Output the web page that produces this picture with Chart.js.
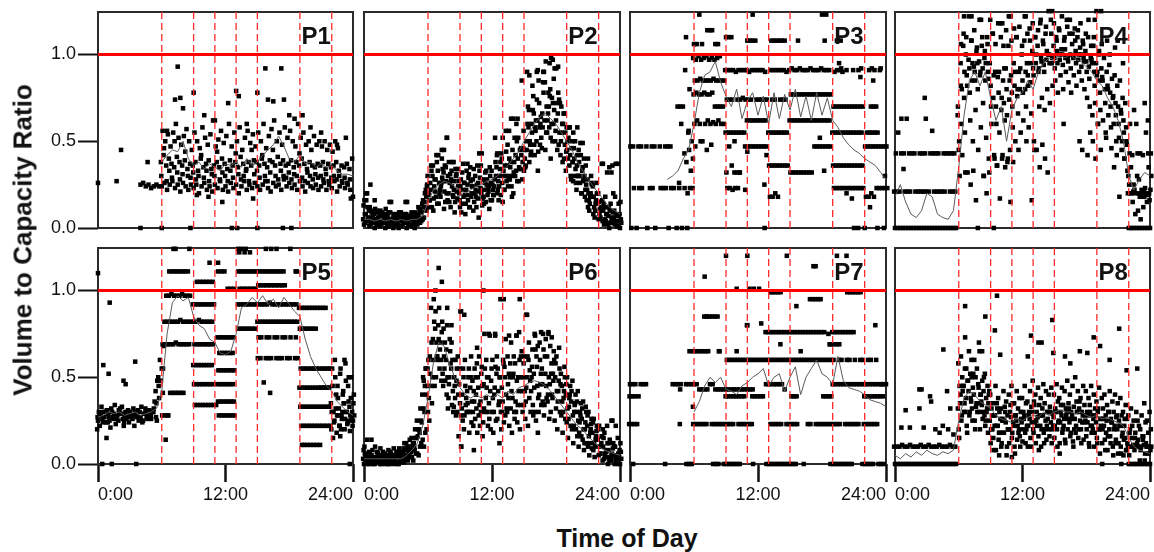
<!DOCTYPE html>
<html><head><meta charset="utf-8">
<script src="https://cdn.jsdelivr.net/npm/chart.js@4.4.1/dist/chart.umd.min.js"></script>
<style>
html,body{margin:0;padding:0;background:#fff;}
#wrap{position:relative;width:1154px;height:552px;overflow:hidden;font-family:'Liberation Sans',Arial,sans-serif;}
#wrap canvas{position:absolute;}
.ytitle{position:absolute;left:23px;top:240px;transform:translate(-50%,-50%) rotate(-90deg);font-weight:bold;font-size:26px;white-space:nowrap;color:#111;}
.xtitle{position:absolute;left:627px;top:538px;transform:translate(-50%,-50%);font-weight:bold;font-size:25px;white-space:nowrap;color:#111;}
</style></head><body><div id="wrap"></div>
<script>
const _ = null;
// ---- axes / labels ----
const Y_TICKS = [0, 0.5, 1.0];
const X_TICKS = [0, 12, 24];
const X_TICK_LABELS = ['0:00', '12:00', '24:00'];
const Y_MAX = 1.245;
const CAPACITY_LEVEL = 1.0;
const PERIOD_BOUNDS = [6, 9, 11, 13, 15, 19, 22];
const PANEL_NAMES = ['P1','P2','P3','P4','P5','P6','P7','P8'];
const LABEL_POS = [22, 1.10];
const STEP = 0.25;       // hours between samples of a day series
const MEAN_STEP = 0.5;   // hours between samples of the mean line
const DAY_SHIFT = [0, -0.08, 0.08, -0.04, 0.04, 0.12, -0.12];

// ================= P1 =================
const P1_A = [.26,_,_,_,_,_,_,.27,_,_,_,_,
_,_,_,_,.25,.26,.24,.25,.23,.24,.25,.24,
.24,.26,.22,.25,.27,.23,.25,.21,.26,.24,.22,.25,
.23,.25,.2,.24,.26,.22,.24,.21,.25,.23,.27,.22,
.24,.21,.26,.23,.25,.2,.24,.27,.22,.25,.23,.26,
.24,.22,.25,.27,.23,.21,.26,.24,.25,.22,.28,.24,
.26,.23,.25,.22,.27,.24,.21,.26,.24,.23,.25,.22,
.24,.26,.22,.25,.23,.27,.21,.24,.26,.23,.25,.22,
.18];
const P1_B = [_,_,_,_,_,_,_,_,_,.45,_,_,
_,_,_,_,_,_,_,.38,_,_,_,_,
.38,.42,.36,.4,.37,.35,.41,.38,.36,.39,.34,.37,
.36,.38,.33,.4,.35,.37,.39,.34,.36,.38,.35,.4,
.37,.34,.39,.36,.38,.35,.41,.37,.33,.38,.36,.39,
.38,.36,.4,.37,.35,.39,.38,.36,.41,.37,.39,.36,
.37,.39,.35,.38,.36,.4,.37,.34,.38,.36,.35,.37,
.36,.38,.34,.37,.35,.36,.38,.33,.36,.35,.37,.34,
.4];
const P1_C = [_,_,_,_,_,_,_,_,_,_,_,_,
_,_,_,_,_,_,_,_,_,_,_,_,
.56,.5,.54,.47,.55,.6,.52,.48,.53,.57,.5,.45,
.55,.5,.46,.58,.52,.48,.54,.62,.47,.51,.56,.49,
.53,.6,.47,.55,.5,.58,.45,.52,.56,.49,.54,.47,
.55,.5,.6,.46,.53,.57,.62,.5,.55,.48,.58,.52,
.56,.5,.47,.6,.52,.55,.48,.5,.45,.53,.48,.5,
.47,.5,.45,.48,.44,.5,.46,_,_,.52,_,_,
_];
const P1_D = [_,_,_,_,_,_,_,_,_,_,_,_,
_,_,_,_,_,_,_,_,_,_,_,_,
.3,.46,.27,.33,.29,.5,.32,.28,.31,.44,.3,.29,
.32,.28,.3,.42,.29,.33,.27,.31,.3,.44,.28,.32,
.3,.27,.33,.29,.43,.31,.28,.3,.34,.27,.45,.31,
.33,.29,.42,.3,.27,.32,.45,.3,.28,.33,.3,.29,
.32,.28,.31,.3,.43,.29,.27,.32,.3,.28,.31,.29,
.3,.28,.31,.27,.29,.3,.28,.3,.27,.29,.26,.28,
_];
const P1_EXTRA = [[7.5,.93],[7.75,.75],[7.25,.74],[8,.69],[6.5,.56],[9,.78],[10,.65],[11,.62],[12.25,.72],[13,.79],[13.25,.76],[14,.6],[15,.78],[15.75,.92],[16,.74],[16.5,.73],[17.25,.92],[17.5,.74],[18,.65],[18.5,.63],[19.25,.65],[20,.58],[21,.55],[22.5,.48],[10.4,.18],[11.7,.15],[9.3,.19],[14.6,.17],[23.8,.17],[4,0],[6,0],[8.7,0],[12.6,0],[13.1,0],[15,0],[17.4,0],[18.2,0]];
const P1_MEAN = [_,_,_,_,_,_,_,_,_,_,_,_,
.38,.42,.45,.44,.5,.4,.36,.38,.34,.37,.35,.33,
.37,.36,.38,.35,.4,.36,.38,.42,.45,.48,.53,.47,
.4,.38,.42,.37,.38,.35,.37,.35,.36,.33,.31,.31,.3];

// ================= P2 =================
const P2_A = [.02,.04,.01,.03,0,.02,.01,.03,0,.02,.01,0,
.02,0,.01,.03,0,.02,.01,0,.02,.03,.05,.12,
.12,.22,.1,.18,.14,.26,.11,.2,.15,.24,.09,.17,
.12,.22,.08,.16,.27,.1,.18,.06,.2,.14,.25,.11,
.16,.28,.2,.34,.15,.3,.24,.38,.2,.33,.27,.42,
.33,.45,.38,.55,.42,.62,.48,.58,.45,.66,.52,.6,
.62,.48,.7,.4,.58,.36,.5,.3,.42,.26,.35,.22,
.12,.2,.08,.16,.05,.12,.02,.08,0,.05,.02,.01,
0];
const P2_B = [.05,.08,.04,.03,.05,.02,.04,.03,.05,.02,.04,.03,
.04,.02,.05,.03,.04,.02,.05,.03,.04,.06,.09,.15,
.25,.16,.3,.21,.33,.18,.27,.35,.2,.28,.22,.31,
.2,.14,.26,.19,.12,.24,.3,.17,.23,.28,.15,.21,
.26,.19,.35,.24,.4,.22,.36,.28,.45,.3,.4,.34,
.46,.36,.58,.44,.66,.5,.72,.46,.62,.55,.76,.5,
.5,.66,.42,.6,.33,.52,.28,.46,.22,.38,.2,.3,
.22,.14,.18,.1,.15,.06,.1,.04,.07,.03,.06,.02,
.04];
const P2_C = [.08,.12,.06,.07,.05,.06,.04,.07,.06,.05,.04,.06,
.05,.07,.04,.06,.05,.07,.06,.04,.08,.05,.12,.18,
.19,.33,.24,.38,.2,.29,.36,.16,.31,.19,.34,.24,
.28,.18,.22,.31,.2,.15,.25,.33,.13,.26,.19,.3,
.22,.38,.27,.19,.33,.44,.3,.24,.38,.5,.34,.28,
.4,.6,.48,.68,.56,.44,.64,.78,.55,.7,.6,.68,
.72,.55,.6,.48,.5,.42,.38,.34,.3,.42,.28,.25,
.16,.26,.12,.2,.08,.16,.05,.12,.03,.09,.04,.07,
.05];
const P2_D = [.13,.16,.1,.09,.08,.1,.07,.09,.08,.07,.09,.06,
.08,.06,.09,.07,.08,.06,.09,.07,.06,.1,.14,.2,
.3,.26,.36,.28,.42,.24,.32,.27,.38,.33,.27,.21,
.16,.32,.19,.25,.35,.28,.22,.26,.36,.18,.33,.24,
.33,.24,.42,.3,.26,.36,.48,.35,.3,.42,.52,.46,
.56,.5,.68,.6,.48,.74,.58,.66,.84,.62,.8,.72,
.56,.78,.5,.66,.44,.58,.46,.4,.36,.3,.33,.18,
.28,.18,.24,.14,.2,.1,.14,.08,.12,.06,.1,.04,
.08];
const P2_E = [.16,.2,.12,.1,.11,.09,.1,.08,.11,.09,.15,.08,
.07,.09,.06,.08,.15,.07,.08,.09,.07,.11,.16,.22,
.2,.36,.17,.42,.26,.45,.21,.52,.26,.38,.15,.34,
.24,.37,.14,.29,.18,.34,.12,.21,.43,.22,.28,.35,
.25,.52,.22,.38,.3,.56,.28,.63,.32,.6,.35,.85,
.45,.9,.5,.82,.58,.91,.6,.84,.96,.78,.98,.86,
.92,.74,.55,.66,.45,.58,.38,.5,.3,.49,.27,.36,
.2,.3,.18,.26,.15,.37,.12,.32,.1,.36,.18,.37,
.15];
const P2_F = [.03,.06,.02,.05,.03,.04,.02,.05,.03,.01,.04,.02,
.03,.05,.02,.04,.03,.05,.02,.04,.03,.04,.06,.1,
.16,.12,.28,.14,.22,.34,.15,.3,.12,.18,.3,.27,
.09,.26,.33,.12,.24,.2,.36,.29,.17,.32,.23,.16,
.19,.3,.16,.43,.22,.27,.4,.18,.52,.27,.45,.38,
.35,.7,.42,.76,.62,.85,.52,.9,.7,.58,.75,.92,
.45,.72,.38,.55,.4,.3,.55,.26,.45,.2,.4,.16,
.1,.25,.06,.2,.11,.04,.18,.02,.14,.2,.08,.14,
.03];
const P2_EXTRA = [[0.2,.2],[0.6,.25],[1,.16],[2.4,.15],[3.9,.15],[5.1,.12],[5.9,.24],[7.3,.4],[7.75,.52],[7.5,.45],[8.4,.38],[9.7,.37],[10.8,.43],[12.5,.43],[13,.52],[13.6,.56],[14,.63],[14.4,.63],[15.5,.88],[16.2,.9],[16.8,.9],[17.4,.95],[17.7,.97],[18.2,.93],[19.6,.27],[20,.58],[20.5,.49],[21,.4],[22.4,.37],[23,.35],[23.6,.37],[23.2,.32],[16.3,.33],[17.5,.4]];
const P2_MEAN = [.05,.05,.04,.05,.04,.05,.04,.05,.04,.05,.05,.07,
.15,.22,.25,.27,.26,.24,.22,.2,.22,.24,.25,.27,
.28,.3,.33,.36,.4,.44,.5,.55,.6,.64,.66,.63,
.6,.55,.5,.45,.38,.33,.28,.24,.2,.16,.12,.1,.08];

// ================= P3 =================
const P3_A = [_,_,_,_,_,_,_,_,_,_,_,_,
_,_,_,_,_,_,_,_,_,1.1,_,_,
1.06,1.06,_,1.06,_,1.14,1.14,_,1.06,1.06,_,_,
1.1,1.1,1.1,_,_,_,_,_,1.08,1.08,1.08,1.08,
_,_,_,_,_,1.08,1.08,1.08,1.08,1.08,1.08,_,
_,_,_,1.08,_,_,_,_,_,_,_,_,
_,1.08,_,_,_,_,1.08,1.08,_,_,_,_,
_,_,_,_,_,_,_,_,_,_,_,_,
_];
const P3_B = [_,_,_,_,_,_,_,_,_,_,_,_,
_,_,_,_,_,_,_,_,_,.91,_,_,
.98,.97,.99,.97,.98,.99,.97,.98,.97,.98,.99,_,
.91,.91,.91,.91,.9,.91,.91,.91,.91,.9,.91,.91,
.91,.91,.91,.9,_,.91,.91,.91,.91,.91,.91,.9,
.91,.92,.91,.91,.92,.91,.91,.91,.92,.91,.91,.91,
.92,.91,.91,.91,_,.9,.91,.91,.9,_,_,_,
.91,_,.91,.92,_,_,.91,.92,.91,_,.91,_,
_];
const P3_C = [_,_,_,_,_,_,_,_,_,_,_,_,
_,_,_,_,_,_,_,_,_,_,.8,_,
.85,.85,.86,.85,.85,.85,.85,.86,.85,.85,.85,.85,
.74,.74,.74,_,.74,.74,.75,.74,.74,.74,_,.74,
.74,.74,.74,.74,_,.74,.74,_,.74,.74,.74,_,
.77,.77,.77,.77,.77,.77,.77,.77,.77,.77,.77,.77,
.77,.77,.77,.77,.7,.7,.7,.7,.7,.7,.7,.7,
.7,.7,.7,.7,_,_,.7,.7,.7,_,_,_,
_];
const P3_D = [_,_,_,_,_,_,_,_,_,_,_,_,
_,_,_,_,_,_,.7,.7,.7,_,.55,_,
.77,.78,.77,.77,.78,.77,.77,.78,.7,.7,.7,.7,
.55,.55,.55,.55,.55,.55,.55,.55,.62,.62,.62,.62,
.62,.62,.62,.62,.55,.55,.55,.55,.55,.55,.55,.55,
.62,.62,.62,.62,.62,.62,.62,.62,.62,.62,.62,.62,
.62,.62,.62,.62,.55,.55,.55,.55,.55,.55,.55,.55,
.55,.55,.55,.55,_,.55,.55,.55,.55,.55,_,_,
_];
const P3_E = [.47,.47,_,.47,.47,_,.47,_,.47,.47,_,.47,
_,.47,.47,.47,_,_,_,_,_,.38,.45,.5,
.6,.62,.6,.5,.6,.62,.6,.61,.6,.62,.6,.6,
.32,_,.36,.32,.32,.32,_,.47,.47,.47,.47,.47,
.47,.47,.47,.47,.36,.36,.36,.36,.36,.36,.36,.36,
.32,.32,.32,.32,.32,.32,.32,.32,.32,.47,.47,.47,
.47,.47,.47,.47,.36,.36,.36,.36,.36,.36,.36,.36,
.36,.36,.36,.36,.47,.47,.47,.47,.47,.47,.47,.47,
.47];
const P3_F = [0,.23,0,.23,.23,_,0,.23,.23,0,_,.23,
.23,.23,0,.23,.23,0,.23,0,.23,0,.23,.23,
.47,_,.5,_,_,_,.48,_,_,_,_,_,
.23,.23,.22,.23,.23,_,_,_,_,_,_,_,
_,_,0,_,.18,.18,.2,.18,_,_,_,_,
_,_,_,_,_,_,_,_,_,_,_,_,
_,_,_,_,.23,.23,.23,.23,.23,.23,.23,.23,
.23,.23,.23,.23,.18,.18,.2,.18,.23,.23,.23,.23,
.23];
const P3_EXTRA = [[6.5,1.23],[11.5,1.23],[18,1.23],[18.4,1.23],[7.7,1.14],[19.4,1.08],[5.5,.56],[4.8,.6],[5.9,.4],[5.7,.33],[10.3,.32],[11,.44],[12.6,.25],[12.8,.42],[10.8,.22],[17.8,.52],[18.2,.33],[21,0],[21.4,0],[22,0],[23.2,0],[23.8,0],[20.3,.2],[20.8,.17],[22.5,.12],[23.9,.3],[22.8,.85],[23.5,.92],[7.2,.45],[5.1,.43],[9.8,.5],[19.6,.95],[19.8,.92],[20.3,.91],[21.6,.87],[5.4,.2],[4.6,.26],[9.3,.47]];
const P3_MEAN = [_,_,_,_,_,_,_,.28,.3,.33,.4,.45,
.6,.78,.88,.9,.96,.84,.76,.7,.8,.63,.73,.78,
.65,.76,.6,.78,.63,.77,.68,.8,.64,.76,.62,.78,
.65,.75,.62,.58,.52,.48,.45,.43,.4,.38,.36,.32,.28];

// ================= P4 =================
const P4_A = [0,0,0,0,0,0,0,0,0,0,0,0,
0,0,0,0,0,0,0,0,0,0,0,0,
.45,.6,.75,.88,.92,.85,.9,.95,.88,.92,.85,.9,
.82,.75,.7,.78,.68,.72,.8,.74,.78,.82,.76,.8,
.85,.8,.88,.84,.92,.95,.9,.98,.94,.97,1,.95,
.98,1.02,.97,1,1.03,.98,1,.99,1.02,.97,1,.98,
.96,.93,.97,.9,.88,.85,.87,.8,.82,.78,.75,.72,
.7,.68,.62,.58,0,0,0,0,0,0,0,0,
0];
const P4_B = [.21,.21,.21,_,.21,.21,.21,_,.21,.21,.21,.21,
.21,.21,_,.21,.21,.21,.21,.21,_,.21,.21,.21,
.7,.95,1.05,1,.97,1.08,.93,1.02,.96,1.05,.98,1.1,
.95,1.12,.9,.87,1.18,.85,.92,1.05,.88,.95,1.1,.9,
1,1.08,.95,1.15,1.02,1.1,1.05,1.18,1.08,1.12,1,1.2,
1.05,1.1,1.15,1.03,1.08,1.2,1.12,1.06,1.15,1.1,1.04,1.08,
1.02,1.1,.98,1.05,.95,1,.92,.98,.9,.94,.86,.88,
.82,.85,.75,.72,.2,.2,.21,.2,.2,.2,.21,.2,
.2];
const P4_C = [.43,_,.43,.43,_,.43,.43,.43,_,.43,.43,.43,
_,.43,.43,.43,.43,_,.43,.43,.43,.43,.43,_,
.3,.42,.55,.32,.62,.5,.68,.45,.58,.3,.52,.4,
.6,.42,.36,.55,.4,.62,.38,.45,.58,.5,.66,.55,
.62,.7,.58,.66,.5,.45,.7,.75,.68,.8,.72,.82,
.85,.78,.88,.8,.9,.84,.78,.88,.82,.9,.85,.8,
.75,.7,.65,.72,.6,.68,.62,.55,.65,.58,.6,.5,
.52,.45,.4,.48,.43,.42,_,.43,.43,.42,_,.43,
.43];
const P4_D = [_,_,_,_,_,_,_,_,_,_,_,_,
_,_,_,_,_,_,_,_,_,_,_,_,
_,1.06,1.12,1.1,1.22,1.08,1.14,1.04,1.2,1.1,1.02,1.06,
1.2,1.12,1.06,1.18,1.1,1.05,1.14,1.22,1.08,1.15,1.1,1.16,
1.05,1.22,1.12,1.08,1.18,1.1,1.14,1.2,1.06,1.16,1.25,1.12,
1.18,1.08,1.14,1.22,1.1,1.16,1.2,1.12,1.08,1.14,1.18,1.06,
1.12,1.2,1.05,1.1,1.25,1.02,1.06,_,1.08,1,_,1.04,
1.08,_,.95,_,.3,.35,.25,.6,.28,.22,.18,.15,
.16];
const P4_E = [_,_,_,_,_,_,_,_,_,_,_,_,
_,_,_,_,_,_,_,_,_,_,_,_,
.5,.8,.9,.82,.78,.95,.85,.8,.9,.72,.95,.86,
.7,.88,.6,.9,.75,.92,.65,.85,.7,.9,.8,.92,
.78,.9,.82,.95,.88,1,.92,.96,.9,1.02,.95,.98,
.92,.95,1,.94,.98,.96,.92,.98,.95,1,.93,.96,
.9,.86,.95,.82,.9,.78,.85,.72,.8,.7,.76,.65,
.6,.66,.55,.5,.25,.2,.22,.3,.18,.2,.23,.19,
.22];
const P4_F = [_,_,_,_,_,_,_,_,_,_,_,_,
_,_,_,_,_,_,_,_,_,_,_,_,
_,_,.32,_,.25,.33,.16,_,_,.3,.2,.32,
_,.4,.36,.17,.42,.35,.4,.15,.38,_,.45,_,
_,.5,_,.16,.45,_,.35,.48,.4,.32,_,_,
_,_,_,.6,_,_,_,_,_,.5,.45,_,
.42,.55,.5,.4,.6,.45,_,.52,_,.46,.35,.42,
.18,.5,.4,.33,.6,.15,.08,.1,.05,.12,.55,.35,
.3];
const P4_EXTRA = [[0.3,.55],[0.6,.63],[1.1,.63],[2.8,.75],[2.9,.63],[3.5,.56],[0.8,.34],[7.8,0],[9.3,0],[22.5,.68],[23.5,.72],[23.8,.62],[6.5,1.22],[7.2,1.22],[8.1,1.2],[10.1,1.18],[10.9,1.22],[12.3,1.22],[14.8,1.25],[19.4,1.25],[18.8,1.2],[6.2,.82],[5.9,.65]];
const P4_MEAN = [.18,.25,.15,.08,.06,.1,.2,.18,.08,.06,.05,.1,
.35,.65,.85,.9,.82,.9,.75,.62,.7,.5,.68,.75,
.78,.85,.8,.9,.95,.98,.97,1,.98,1,.97,.96,
.93,.9,.85,.82,.75,.7,.62,.5,.3,.22,.28,.32,.3];

// ================= P5 =================
const P5_A = [.25,.28,.3,.24,.27,.32,.29,.26,.3,.33,.28,.27,
.3,.26,.29,.31,.27,.25,.3,.28,.26,.32,.35,.38,
.55,.82,.82,.82,.82,.82,.82,.83,.82,.82,.82,.82,
.82,.82,.83,.82,.82,.82,.82,.82,_,.73,.73,.73,
.73,.73,.73,.73,_,.78,.78,.78,.78,.78,.78,.78,
.82,.82,.82,.82,.82,.82,.82,.82,.82,.82,.82,.82,
.82,.82,.82,.82,.78,.78,.78,.78,.78,.78,.78,_,
.44,.44,.44,.44,.3,.25,.28,.22,.3,.26,.24,.28,
.25];
const P5_B = [.2,.22,.26,.3,.24,.21,.27,.23,.25,.29,.22,.26,
.24,.28,.22,.27,.3,.24,.29,.26,.28,.3,.42,.5,
.48,.68,.97,.97,.98,.97,.97,.97,.98,.97,.97,.97,
.92,.92,.92,.92,.92,.92,.92,.92,.92,_,.64,.64,
.64,.64,.64,.64,_,.92,.92,.92,.92,.92,.92,.92,
.92,.92,.92,.92,.92,.93,.92,.92,.92,.92,.92,.92,
.92,.92,.92,.92,.9,.9,.9,.9,.9,.9,.9,.9,
.9,.9,.9,_,.35,.3,.4,.32,.28,.35,.3,.33,
.3];
const P5_C = [.3,.33,.27,.31,.25,.3,.34,.28,.32,.26,.3,.31,
.27,.32,.28,.25,.33,.29,.27,.31,.3,.36,.48,.6,
.69,.69,.69,.69,.69,.7,.69,.69,.69,.69,.69,_,
.69,.69,.69,.69,.69,.69,.69,.69,_,.54,.54,.54,
.54,.54,.54,.54,_,1.01,1.01,1.01,1.01,1.01,1.01,1.01,
1.03,1.03,1.03,1.03,1.03,1.03,1.03,1.03,1.03,1.03,1.03,_,
_,_,_,_,.55,.55,.55,.55,.55,.55,.55,.55,
.55,.55,.55,.55,.45,.5,.38,.55,.42,.48,.36,.5,
.4];
const P5_D = [.27,_,.24,_,.29,_,.26,_,.31,_,.24,_,
.28,_,.3,_,.26,_,.32,_,.28,.3,.27,.45,
_,_,_,1.11,1.11,1.11,1.11,1.11,1.11,1.11,1.11,_,
.57,.57,.57,.57,.57,.57,.57,.57,_,.46,.46,.46,
.46,.46,.46,.46,_,1.11,1.11,1.11,1.11,1.11,1.11,1.11,
1.11,1.11,1.11,1.11,1.11,1.11,1.11,1.11,1.11,1.11,1.11,_,
_,_,_,1.11,.44,.44,.44,.44,.44,.44,.44,.44,
.44,.44,.44,.44,.2,.24,.18,.22,.26,.2,.23,.19,
.22];
const P5_E = [_,_,_,_,_,_,_,_,_,_,_,_,
_,_,_,_,_,_,_,_,_,_,.25,_,
.28,.28,.28,.41,.41,.41,.41,.41,.41,_,_,_,
.46,.46,.46,.46,.46,.46,.46,.46,_,.36,.36,.36,
.36,.36,.36,.36,_,_,_,_,_,_,_,_,
.61,.61,_,.61,.61,.61,_,.61,.61,.61,_,.61,
.61,_,.61,.61,.33,.33,.33,.33,.33,.33,.33,.33,
.33,.33,.33,.33,.55,.6,.45,.52,.4,.58,.45,.38,
.35];
const P5_F = [_,_,_,_,_,_,_,_,_,_,_,_,
_,_,_,_,_,_,_,_,_,_,_,_,
.55,.14,.28,_,_,_,_,_,_,_,_,_,
.34,.34,.34,.34,.34,.34,.34,.34,.34,.28,.28,.28,
.28,.28,.28,.28,_,_,_,_,_,_,_,_,
.73,.73,_,.73,.73,_,.73,.73,_,.73,.73,_,
.73,_,.73,_,.22,.22,.22,.22,.22,.22,.22,.22,
.22,.22,.22,.22,.15,.32,.28,.2,.35,.3,.25,.27,
.28];
const P5_EXTRA = [[7.1,1.24],[7.3,1.24],[8.6,1.24],[13.2,1.24],[13.5,1.24],[13.9,1.24],[15.8,1.24],[16.3,1.24],[16.8,1.24],[18.1,1.24],[13.3,1.22],[13.8,1.22],[14.3,1.22],[10.5,1.16],[11.3,1.16],[9.3,1.05],[9.6,1.05],[9.9,1.05],[10.2,1.05],[10.5,1.05],[10.8,1.05],[11.3,1.11],[11.6,1.11],[11.9,1.11],[12.2,1.01],[12.5,1.01],[12.8,1.01],[19.2,.11],[19.4,.11],[19.7,.11],[20,.11],[20.3,.11],[20.6,.11],[20.9,.11],[15.6,.47],[16.2,.41],[0,1.1],[1.1,.93],[0.5,.57],[1,.52],[2.4,.48],[2.6,.46],[3.5,.59],[0.8,.15],[0.4,0],[1.3,0],[3.6,0],[23.7,0],[18.6,1.11],[6.1,.41],[23.2,.6],[23.6,.5],[22.8,.16],[6.3,.69]];
const P5_MEAN = [.27,.28,.3,.29,.3,.28,.29,.3,.28,.29,.3,.32,
.42,.75,.93,.97,.94,.96,.85,.8,.78,.72,.7,.64,
.63,.65,.75,.9,.92,.96,.93,.97,.92,.95,.9,.96,
.92,.88,.85,.72,.62,.55,.5,.45,.42,.36,.33,.3,.28];

// ================= P6 =================
const P6_A = [0,.02,0,.01,0,.02,0,.01,0,0,.02,0,
.01,0,.02,.01,.03,.05,.04,.08,.06,.1,.14,.18,
.3,.45,.6,.5,.72,.48,.62,.4,.5,.34,.45,.3,
.35,.25,.45,.3,.5,.22,.4,.28,.52,.32,.44,.26,
.3,.44,.26,.5,.36,.28,.46,.32,.52,.3,.42,.34,
.34,.5,.38,.56,.3,.45,.6,.36,.52,.4,.3,.48,
.32,.48,.28,.42,.24,.38,.2,.34,.16,.3,.14,.24,
.1,.2,.08,.16,.05,.12,.03,.08,.02,.06,0,.03,
0];
const P6_B = [.03,.05,.02,.04,.03,.02,.04,.03,.02,.05,.03,.04,
.03,.05,.04,.06,.08,.1,.07,.12,.15,.2,.24,.3,
.45,.62,.5,.78,.6,.7,.45,.6,.38,.55,.33,.48,
.46,.32,.28,.42,.3,.48,.26,.5,.36,.24,.38,.5,
.48,.3,.52,.36,.44,.56,.3,.5,.38,.58,.34,.5,
.5,.36,.6,.42,.52,.62,.4,.55,.34,.62,.46,.38,
.5,.36,.46,.3,.4,.26,.36,.22,.3,.18,.26,.12,
.22,.12,.18,.1,.14,.06,.1,.04,.08,.02,.05,.01,
.04];
const P6_C = [.06,.03,.05,.02,.04,.06,.03,.05,.04,.02,.05,.03,
.05,.04,.07,.05,.1,.08,.12,.15,.2,.25,.32,.4,
.38,.7,.82,.62,.55,.82,.7,.5,.65,.42,.6,.4,
.28,.5,.38,.55,.24,.36,.58,.34,.45,.55,.3,.42,
.38,.56,.42,.3,.58,.4,.52,.42,.3,.48,.6,.42,
.42,.62,.48,.34,.66,.38,.52,.66,.45,.5,.58,.6,
.42,.55,.36,.5,.32,.45,.28,.4,.25,.35,.2,.3,
.16,.26,.12,.22,.1,.16,.06,.12,.04,.09,.03,.06,
.07];
const P6_D = [.08,.04,.07,.05,.03,.07,.05,.04,.06,.03,.07,.05,
.04,.07,.05,.09,.12,.06,.15,.1,.25,.18,.4,.45,
.55,.52,.72,.88,.8,.6,.78,.66,.46,.7,.5,.55,
.55,.4,.6,.35,.44,.3,.5,.44,.3,.46,.6,.35,
.55,.4,.62,.5,.3,.5,.62,.58,.5,.36,.5,.62,
.58,.44,.7,.5,.44,.56,.7,.46,.62,.36,.68,.52,
.58,.42,.52,.38,.46,.33,.42,.3,.36,.24,.32,.2,
.28,.18,.24,.14,.2,.1,.15,.07,.12,.05,.1,.04,
.08];
const P6_E = [.1,.14,.06,.08,.1,.06,.09,.07,.05,.08,.06,.09,
.07,.09,.06,.12,.08,.14,.1,.2,.16,.32,.5,.55,
.6,.9,.95,.7,.9,.76,.55,.8,.72,.6,.38,.62,
.88,.55,.34,.5,.62,.42,.32,.62,.56,.75,.5,.74,
.6,.75,.55,.95,.6,.72,.38,.7,.62,.74,.76,.65,
.62,.86,.54,.66,.74,.68,.46,.75,.72,.76,.52,.65,
.62,.67,.45,.56,.5,.4,.48,.35,.42,.28,.36,.33,
.3,.23,.26,.19,.22,.16,.18,.22,.14,.25,.1,.15,
.12];
const P6_F = [.01,0,.03,0,.02,.01,0,.03,.01,0,.01,.02,
0,.02,.01,.03,.02,.04,.02,.06,.05,.12,.1,.2,
.25,.35,.45,.62,.66,.52,.48,.32,.58,.3,.28,.16,
.1,.2,.3,.18,.36,.55,.18,.22,.16,.3,.22,.2,
.18,.25,.34,.2,.24,.32,.22,.18,.26,.24,.2,.3,
.26,.22,.3,.28,.25,.3,.34,.28,.38,.26,.4,.25,
.2,.3,.18,.26,.15,.22,.12,.2,.1,.16,.08,.12,
.05,.09,.04,.14,.06,.02,.04,0,.03,.12,.02,0,
.03];
const P6_EXTRA = [[7,1.13],[7.3,1.05],[6.7,1],[13.1,.95],[14.6,.95],[11.2,1],[0.7,.14],[9.1,.88],[9.4,.86],[11.7,.75],[12.3,.74],[10.6,.67],[15.2,.86],[13.6,.74],[14.3,.74],[16,.75],[16.6,.76],[17.3,.75],[17.6,.73],[23.2,.25],[23.6,.22],[22.4,.2],[9.1,.1],[12.7,.12],[16.3,.18],[10.3,.08],[5.8,.55],[5.6,.48],[7.8,.9],[8.2,.8]];
const P6_MEAN = [.03,.03,.03,.03,.03,.03,.03,.03,.05,.08,.12,.22,
.38,.58,.7,.68,.58,.5,.44,.4,.38,.4,.38,.4,
.38,.4,.38,.42,.4,.44,.45,.47,.48,.47,.45,.42,
.38,.34,.3,.26,.22,.2,.16,.13,.1,.08,.07,.06,.05];

// ================= P7 =================
const P7_A = [.46,.46,.46,_,.46,.46,.46,_,_,_,_,_,
_,_,_,_,.46,.46,.46,.46,_,.46,.46,.46,
.46,.46,.43,.43,.43,.43,.46,.46,.43,.43,.43,.43,
.43,.43,.43,.43,.43,.43,.43,.43,.43,.43,.43,_,
_,_,_,.46,.46,.46,.46,.46,.46,.46,.43,_,
_,_,_,_,_,_,_,_,_,_,_,_,
_,_,_,_,.46,.46,.46,.46,.46,.46,.46,.46,
.46,.46,.46,.46,.46,.46,.46,.46,.46,.46,.46,.46,
.46];
const P7_B = [.23,.23,.23,.23,_,_,_,_,_,_,_,_,
_,_,_,_,_,_,_,.23,_,_,_,_,
.23,.23,.23,.23,.23,.23,_,.23,.23,.23,.23,.23,
.23,.23,.23,.23,_,.23,.23,.23,.23,.23,.23,_,
_,_,_,_,_,.23,.23,.23,.23,.23,_,.23,
.23,.23,.23,.23,_,_,_,.23,.23,_,.23,.23,
.23,.23,.23,.23,.23,.23,.23,.23,_,.23,.23,.23,
.23,.23,.23,_,.23,.23,.23,.23,.23,.23,_,_,
_];
const P7_C = [_,_,_,_,_,_,_,_,_,_,_,_,
_,_,_,_,_,_,_,_,_,_,.65,.65,
.65,.65,.65,.65,.65,.65,_,_,_,.65,_,_,
.6,.6,.6,.6,.6,.6,.6,.6,.6,.6,.6,.6,
.6,.6,.6,.6,.6,.6,.6,.6,.6,.6,.6,.6,
.6,.6,.6,.6,.6,.6,.6,.6,.6,.6,.6,.6,
.6,.6,.6,.6,.6,_,.6,.6,_,.6,.6,_,
.6,_,.6,.6,_,.6,.6,_,.6,_,_,_,
_];
const P7_D = [.39,.39,.39,_,_,_,_,_,_,_,_,_,
_,_,_,_,_,_,_,_,_,_,_,_,
_,_,_,_,.85,.85,.85,.85,.85,.85,_,_,
.39,.39,.39,.39,.39,.39,.39,.39,.8,_,.39,.39,
.39,.39,.39,.76,.76,.76,.76,.76,.76,.76,.76,.76,
.76,.76,.76,.76,.76,.76,.76,.76,.76,.76,.76,.76,
.76,.76,_,.69,.76,.76,.76,.76,.76,.76,.76,.76,
.76,_,_,_,.39,.39,.39,.39,.39,.39,.39,.39,
_];
const P7_E = [_,0,_,_,_,_,_,_,_,_,_,_,
_,0,_,_,_,_,_,_,_,0,0,0,
_,_,_,_,_,_,_,0,0,0,_,0,
0,0,0,0,0,0,_,_,_,_,0,_,
_,_,_,0,0,0,0,0,0,0,0,0,
0,0,0,_,_,0,_,_,_,_,_,_,
_,_,_,0,0,0,0,0,0,0,0,0,
_,_,_,0,0,0,0,0,_,0,0,0,
_];
const P7_F = [_,_,_,_,_,_,_,_,_,_,_,_,
_,_,_,_,_,_,_,_,_,_,_,_,
_,_,_,_,_,_,_,_,_,_,_,_,
_,_,_,_,_,_,_,_,_,_,_,_,
_,_,_,_,_,.99,.99,.99,.99,_,_,_,
.39,.39,.39,_,_,_,_,.95,.95,.95,.95,.95,
.39,.39,.39,.39,.69,.69,.69,_,_,.99,.99,.99,
.99,.99,.99,_,_,_,_,_,_,_,_,_,
_];
const P7_EXTRA = [[7,1.08],[9,1.2],[11,1.2],[14.7,1.2],[19.4,1.2],[20.3,1.2],[17.2,1.14],[17.4,1.14],[15.6,.91],[10,1.01],[11.2,1.01],[11.6,1.01],[12.1,1.01],[13.2,.99],[14.1,.69],[16,.65],[8.4,.65],[10,.65],[11,.8],[23,.8],[18.8,.69],[7.2,.85],[4.7,.43],[5.9,.33],[23.6,.46],[0.8,.39],[12.3,.81],[18.6,.75]];
const P7_MEAN = [_,_,_,_,_,_,_,_,_,_,_,_,
.3,.36,.45,.5,.47,.5,.43,.42,.4,.45,.47,.5,
.52,.55,.45,.5,.52,.42,.5,.56,.4,.5,.55,.6,
.52,.5,.46,.62,.48,.44,.43,.42,.4,.37,.36,.35,.33];

// ================= P8 =================
const P8_A = [0,0,0,0,0,0,0,0,0,0,0,0,
0,0,0,0,0,0,0,0,0,0,0,0,
.2,.25,.3,.22,.28,.32,.25,.3,.2,.26,.22,.18,
.12,.15,.08,.14,.1,.18,.05,.12,.15,.1,.14,.16,
.13,.18,.1,.15,.2,.12,.16,.1,.18,.14,.2,.12,
.15,.2,.12,.18,.14,.2,.16,.13,.18,.15,.2,.14,
.16,.12,.18,.1,.15,.2,.12,.14,.08,.16,.1,.12,
.06,.1,.05,.08,0,0,0,0,0,0,0,0,
0];
const P8_B = [.1,.1,.1,.11,.1,.1,.11,.1,.1,.1,.11,.1,
.1,.11,.1,.1,.1,.11,.1,.1,.1,.11,.1,.1,
.32,.4,.45,.38,.42,.36,.4,.35,.3,.34,.28,.32,
.25,.2,.28,.22,.26,.18,.24,.2,.27,.22,.25,.2,
.24,.28,.22,.26,.3,.24,.27,.22,.28,.25,.3,.24,
.27,.3,.25,.28,.26,.3,.24,.28,.26,.3,.25,.28,
.25,.28,.22,.26,.24,.2,.26,.22,.25,.2,.24,.22,
.2,.22,.18,.15,.1,.1,.11,.1,.1,.1,.11,.1,
.1];
const P8_C = [_,_,_,_,_,_,_,_,_,_,_,_,
_,_,_,_,_,_,_,_,_,_,_,_,
.45,.5,.55,.48,.52,.44,.5,.46,.4,.42,.38,.4,
.32,.28,.35,.3,.25,.33,.28,.3,.35,.28,.32,.3,
.3,.35,.28,.33,.36,.3,.34,.28,.35,.3,.33,.29,
.32,.36,.3,.34,.32,.35,.3,.33,.36,.32,.3,.34,
.3,.34,.28,.32,.3,.26,.32,.28,.3,.26,.3,.27,
.25,.28,.22,.26,.18,.22,.15,.25,.2,.14,.24,.18,
.2];
const P8_D = [_,_,_,_,_,_,_,_,_,_,_,_,
_,_,_,_,_,_,_,_,_,_,_,_,
.58,.62,.45,.55,.65,.5,.6,.55,.65,.48,.52,.45,
.4,.35,.45,.38,.32,.42,.36,.4,.45,.35,.42,.38,
.38,.45,.36,.42,.48,.4,.44,.38,.46,.42,.4,.44,
.4,.46,.38,.44,.42,.48,.4,.45,.5,.42,.38,.45,
.42,.38,.45,.4,.36,.44,.38,.4,.34,.42,.36,.4,
.35,.38,.3,.34,.28,.32,.25,.3,.22,.28,.35,.25,
.3];
const P8_E = [_,_,_,_,_,_,_,_,_,_,_,_,
_,_,_,_,_,_,_,_,_,_,_,_,
.15,.28,.35,.18,.3,.25,.2,.35,.4,.3,.25,.35,
.2,.08,.22,.18,.12,.25,.1,.2,.18,.06,.22,.1,
.2,.12,.22,.1,.18,.25,.08,.2,.12,.22,.16,.2,
.22,.1,.24,.2,.12,.26,.18,.1,.22,.2,.12,.24,
.2,.1,.22,.18,.12,.06,.2,.08,.16,.12,.05,.14,
.12,.06,.14,.08,.05,.15,.08,.12,.02,.16,.06,.1,
.08];
const P8_F = [_,_,_,_,_,_,_,_,_,_,_,_,
_,_,_,_,_,_,_,_,_,_,_,_,
.35,.42,.3,.48,.38,.52,.33,.44,.36,.5,.3,.42,
.28,.22,.32,.18,.26,.3,.2,.34,.24,.28,.18,.26,
.26,.2,.3,.24,.34,.22,.28,.32,.2,.26,.3,.22,
.3,.24,.34,.22,.28,.32,.26,.2,.3,.36,.24,.28,
.24,.3,.2,.28,.32,.22,.26,.18,.3,.24,.2,.28,
.22,.16,.26,.12,.2,.1,.18,.14,.08,.16,.12,.06,
.1];
const P8_EXTRA = [[2.3,.43],[2.5,.43],[3.3,.39],[3.4,.36],[1,.31],[2.3,.32],[0.6,.21],[1.4,.21],[2.7,.21],[3.8,.2],[4.2,.18],[4.5,.22],[5,.2],[5.5,.17],[4.55,.66],[4.9,.42],[5.2,.32],[6.6,.91],[8.5,.85],[6.6,.73],[7.9,.7],[9.6,.97],[9.4,.77],[9.9,.63],[12.8,.74],[13.5,.7],[13.8,.7],[14.8,.83],[14.9,.64],[16,.62],[17.4,.65],[18.1,.64],[21.1,.78],[18.7,.73],[19.3,.68],[21.8,.54],[22.8,.55],[19.5,0],[21.3,0],[9.8,.05],[11,.04],[15.5,.06],[23.5,.02],[7.2,.6],[8.2,.65],[12.5,.62],[16.5,.58],[20.2,.6]];
const P8_MEAN = [.05,.03,.06,.04,.07,.05,.08,.06,.05,.07,.06,.08,
.25,.38,.42,.4,.36,.34,.32,.28,.26,.25,.24,.26,
.25,.27,.28,.27,.3,.28,.3,.31,.3,.3,.29,.3,
.28,.27,.28,.26,.27,.25,.24,.22,.15,.1,.08,.07,.06];

const PANEL_DAYS = [
  [P1_A,P1_B,P1_C,P1_D],
  [P2_A,P2_B,P2_C,P2_D,P2_E,P2_F],
  [P3_A,P3_B,P3_C,P3_D,P3_E,P3_F],
  [P4_A,P4_B,P4_C,P4_D,P4_E,P4_F],
  [P5_A,P5_B,P5_C,P5_D,P5_E,P5_F],
  [P6_A,P6_B,P6_C,P6_D,P6_E,P6_F],
  [P7_A,P7_B,P7_C,P7_D,P7_E,P7_F],
  [P8_A,P8_B,P8_C,P8_D,P8_E,P8_F]
];
const PANEL_EXTRA = [P1_EXTRA,P2_EXTRA,P3_EXTRA,P4_EXTRA,P5_EXTRA,P6_EXTRA,P7_EXTRA,P8_EXTRA];
const PANEL_MEAN = [P1_MEAN,P2_MEAN,P3_MEAN,P4_MEAN,P5_MEAN,P6_MEAN,P7_MEAN,P8_MEAN];

// ---- layout ----
const FONT = "'Liberation Sans', Arial, Helvetica, sans-serif";
const PLOT_LEFT = [98, 364, 630, 895];
const PLOT_WIDTH = [255, 256, 256, 255];
const PLOT_TOP = [12, 248];
const PLOT_HEIGHT = 216;
const MARGIN = 14;
const Y_AXIS_W = 98;
const X_AXIS_H = 46;

function daySeries(arr, shift){
  const pts = [];
  arr.forEach((v, i) => { if (v !== null && v !== undefined) pts.push({x: i*STEP + shift, y: v}); });
  return pts;
}
function meanSeries(arr){
  return arr.map((v, i) => ({x: i*MEAN_STEP, y: (v === null ? null : v)}));
}

const framePlugin = {
  id: 'frame',
  beforeDatasetsDraw(chart){
    const a = chart.chartArea, ctx = chart.ctx;
    ctx.save();
    ctx.strokeStyle = '#2b2b2b'; ctx.lineWidth = 2;
    ctx.strokeRect(a.left, a.top, a.right - a.left, a.bottom - a.top);
    ctx.restore();
  }
};
const panelLabel = {
  id: 'panelLabel',
  afterDatasetsDraw(chart, args, opts){
    const ctx = chart.ctx, xs = chart.scales.x, ys = chart.scales.y;
    ctx.save();
    ctx.font = 'bold 24px ' + FONT;
    ctx.fillStyle = '#111';
    ctx.textAlign = 'right';
    ctx.textBaseline = 'middle';
    ctx.fillText(opts.text, xs.getPixelForValue(LABEL_POS[0]) - 1, ys.getPixelForValue(LABEL_POS[1]));
    ctx.restore();
  }
};

const wrap = document.getElementById('wrap');

function build(idx){
  const col = idx % 4, row = Math.floor(idx / 4);
  const L = PLOT_LEFT[col], T = PLOT_TOP[row], W = PLOT_WIDTH[col], H = PLOT_HEIGHT;
  const showY = col === 0, showX = row === 1;
  const cLeft = showY ? L - Y_AXIS_W : L - MARGIN;
  const cTop = T - MARGIN;
  const cW = (L - cLeft) + W + MARGIN;
  const cH = MARGIN + H + (showX ? X_AXIS_H : MARGIN);
  const cv = document.createElement('canvas');
  cv.width = cW; cv.height = cH;
  cv.style.left = cLeft + 'px'; cv.style.top = cTop + 'px';
  cv.style.width = cW + 'px'; cv.style.height = cH + 'px';
  wrap.appendChild(cv);

  const datasets = [];
  datasets.push({data: [{x:0,y:CAPACITY_LEVEL},{x:24,y:CAPACITY_LEVEL}], showLine:true, borderColor:'#ff0000', borderWidth:3, pointRadius:0, order:0, clip:false});
  PERIOD_BOUNDS.forEach(h => {
    datasets.push({data: [{x:h,y:0},{x:h,y:Y_MAX}], showLine:true, borderColor:'#ff2a2a', borderWidth:1.3, borderDash:[7,4], pointRadius:0, order:1});
  });
  datasets.push({data: meanSeries(PANEL_MEAN[idx]), showLine:true, spanGaps:false, borderColor:'#5a5a5a', borderWidth:1, pointRadius:0, order:2});
  const pointStyle = {pointStyle:'rect', pointRadius:3.2, pointHoverRadius:3.2, backgroundColor:'#000', borderColor:'#000', borderWidth:0, showLine:false, clip:false, order:3};
  PANEL_DAYS[idx].forEach((arr, k) => {
    datasets.push(Object.assign({data: daySeries(arr, DAY_SHIFT[k % DAY_SHIFT.length])}, pointStyle));
  });
  datasets.push(Object.assign({data: PANEL_EXTRA[idx].map(p => ({x:p[0], y:p[1]}))}, pointStyle));

  new Chart(cv, {
    type: 'scatter',
    data: {datasets},
    options: {
      responsive: false, animation: false, devicePixelRatio: 1, events: [],
      layout: {padding: {left: showY ? 0 : MARGIN, right: MARGIN, top: MARGIN, bottom: showX ? 0 : MARGIN}},
      plugins: {legend: {display:false}, tooltip: {enabled:false}, panelLabel: {text: PANEL_NAMES[idx]}},
      scales: {
        x: {
          type: 'linear', min: 0, max: 24, display: showX,
          afterBuildTicks: s => { s.ticks = X_TICKS.map(v => ({value: v})); },
          afterFit: s => { s.height = showX ? X_AXIS_H : 0; s.paddingLeft = 0; s.paddingRight = 0; },
          grid: {display: true, drawOnChartArea: false, drawTicks: true, tickLength: 18, tickWidth: 2.5, tickColor: '#111'},
          border: {display: false},
          ticks: {align: 'inner', autoSkip: false, maxRotation: 0, minRotation: 0, padding: 2, color: '#111',
                  font: {size: 18, family: FONT}, callback: (v, i) => X_TICK_LABELS[i]}
        },
        y: {
          type: 'linear', min: 0, max: Y_MAX, display: showY,
          afterBuildTicks: s => { s.ticks = Y_TICKS.map(v => ({value: v})); },
          afterFit: s => { s.width = showY ? Y_AXIS_W : 0; s.paddingTop = 0; s.paddingBottom = 0; },
          grid: {display: true, drawOnChartArea: false, drawTicks: true, tickLength: 20, tickWidth: 2, tickColor: '#111'},
          border: {display: false},
          ticks: {padding: 2, color: '#111', font: {size: 18, family: FONT},
                  callback: v => Number(v).toFixed(1)}
        }
      }
    },
    plugins: [framePlugin, panelLabel]
  });
}

for (let i = 0; i < 8; i++) build(i);

const yt = document.createElement('div'); yt.className = 'ytitle'; yt.textContent = 'Volume to Capacity Ratio'; wrap.appendChild(yt);
const xt = document.createElement('div'); xt.className = 'xtitle'; xt.textContent = 'Time of Day'; wrap.appendChild(xt);
</script>
</body></html>
